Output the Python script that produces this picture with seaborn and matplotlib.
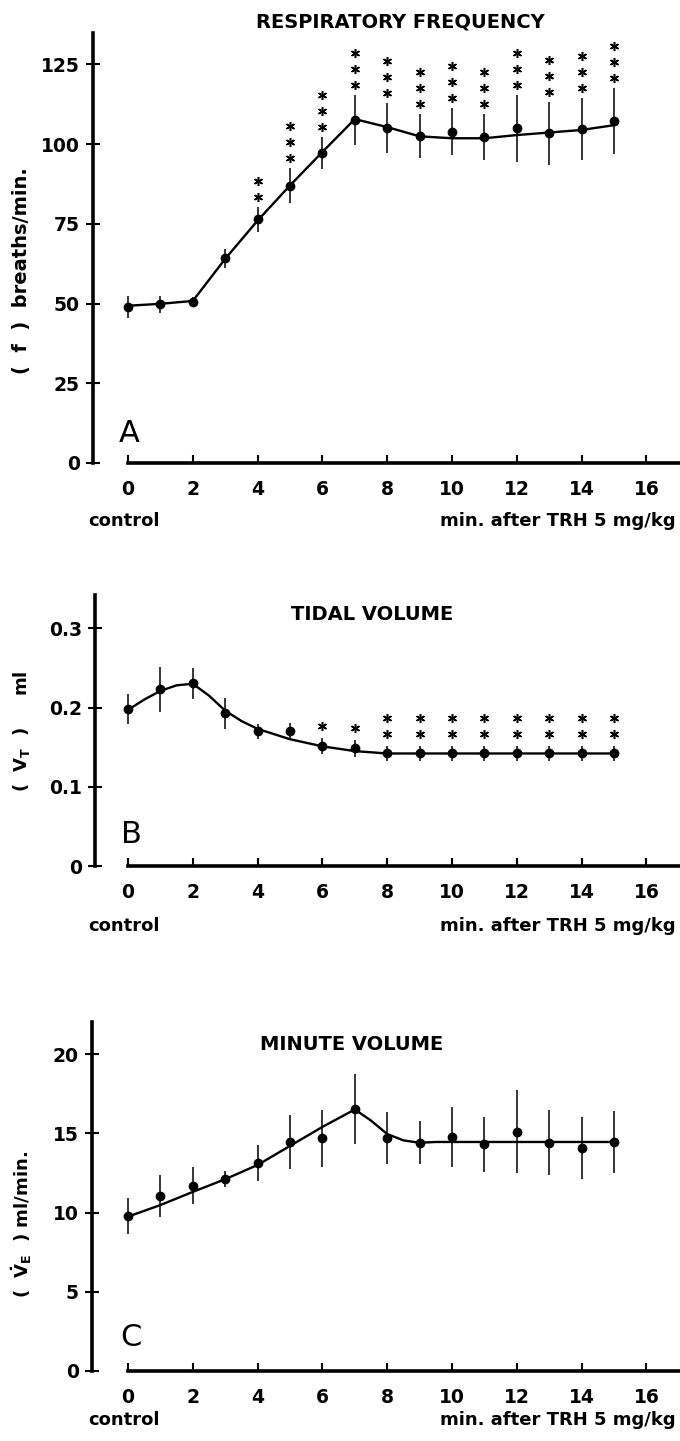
import numpy as np
import pandas as pd
import matplotlib
matplotlib.use("Agg")
import matplotlib.pyplot as plt
from matplotlib.transforms import offset_copy
import seaborn as sns

# ---------------- data ----------------
minutes = list(range(16))

freq_mean = [49.0, 49.7, 50.6, 64.2, 76.4, 86.9, 97.1, 107.5, 104.9, 102.6, 103.8, 102.3, 104.9, 103.4, 104.6, 107.2]
freq_err = [3.4, 2.7, 1.5, 3.0, 4.0, 5.5, 5.0, 7.9, 7.8, 6.9, 7.4, 7.2, 10.4, 9.9, 9.7, 10.4]
freq_sig = [0, 0, 0, 0, 2, 3, 3, 3, 3, 3, 3, 3, 3, 3, 3, 3]
freq_fit_x = [0, 1, 2, 3, 4, 5, 6, 7, 8, 9, 10, 11, 12, 13, 14, 15]
freq_fit_y = [49.3, 49.9, 50.8, 64.0, 76.0, 87.0, 97.5, 107.8, 105.3, 102.4, 101.8, 101.8, 102.8, 103.6, 104.4, 105.9]

vt_mean = [0.1976, 0.2228, 0.2304, 0.1926, 0.1702, 0.1706, 0.1513, 0.1484, 0.142, 0.142, 0.142, 0.142, 0.142, 0.142, 0.1425, 0.1425]
vt_err = [0.019, 0.028, 0.020, 0.0195, 0.0095, 0.0095, 0.0105, 0.0105, 0.0095, 0.0095, 0.0095, 0.0095, 0.0095, 0.0095, 0.0095, 0.0095]
vt_sig = [0, 0, 0, 0, 0, 0, 1, 1, 2, 2, 2, 2, 2, 2, 2, 2]
vt_fit_x = [0, 0.5, 1, 1.5, 2, 2.5, 3, 3.5, 4, 5, 6, 7, 8, 15]
vt_fit_y = [0.197, 0.210, 0.221, 0.228, 0.230, 0.215, 0.196, 0.183, 0.173, 0.160, 0.151, 0.145, 0.142, 0.142]

ve_mean = [9.78, 11.04, 11.69, 12.11, 13.14, 14.47, 14.68, 16.53, 14.68, 14.41, 14.74, 14.30, 15.10, 14.41, 14.09, 14.47]
ve_err = [1.16, 1.31, 1.16, 0.53, 1.13, 1.70, 1.81, 2.21, 1.65, 1.37, 1.89, 1.73, 2.60, 2.05, 1.95, 1.95]
ve_fit_x = [0, 1, 2, 3, 4, 5, 6, 7, 7.5, 8, 8.5, 9, 9.5, 15]
ve_fit_y = [9.74, 10.47, 11.3, 12.1, 13.0, 14.2, 15.4, 16.5, 15.8, 14.95, 14.55, 14.4, 14.45, 14.45]

xticks = [0, 2, 4, 6, 8, 10, 12, 14, 16]
yticks_A = [0, 25, 50, 75, 100, 125]
yticks_B = [0, 0.1, 0.2, 0.3]
yticklabels_B = ["0", "0.1", "0.2", "0.3"]
yticks_C = [0, 5, 10, 15, 20]

titles = ["RESPIRATORY FREQUENCY", "TIDAL VOLUME", "MINUTE VOLUME"]
ylabels = ["(  f  )  breaths/min.", r"(  $V_T$  )     ml", r"(  $\dot{V}_E$  ) ml/min."]
letters = ["A", "B", "C"]
xnote_left = "control"
xnote_right = "min. after TRH 5 mg/kg"

# ---------------- style ----------------
sns.set_theme(style="ticks")
plt.rcParams["font.family"] = ["DejaVu Sans"]
plt.rcParams["mathtext.fontset"] = "custom"
plt.rcParams["mathtext.rm"] = "DejaVu Sans:bold"
plt.rcParams["mathtext.it"] = "DejaVu Sans:bold"
plt.rcParams["mathtext.bf"] = "DejaVu Sans:bold"
plt.rcParams["mathtext.default"] = "rm"
for key in ("text.color", "axes.edgecolor", "axes.labelcolor", "xtick.color", "ytick.color"):
    plt.rcParams[key] = "black"

W, H = 680, 1441
fig = plt.figure(figsize=(W / 100, H / 100), dpi=100)

X0_PX = 128.0
PX_PER_MIN = 32.4
XRIGHT = (W - X0_PX) / PX_PER_MIN
TICKFS = 13.5
TXTFS = 13


def make_axes(left_px, top_px, bottom_px, ytop):
    ax = fig.add_axes([left_px / W, 1 - bottom_px / H, (W - left_px) / W, (bottom_px - top_px) / H])
    ax.set_xlim((left_px - X0_PX) / PX_PER_MIN, XRIGHT)
    ax.set_ylim(0, ytop)
    for s in ("top", "right"):
        ax.spines[s].set_visible(False)
    for s in ("left", "bottom"):
        ax.spines[s].set_linewidth(2.6)
        ax.spines[s].set_color("black")
    ax.spines["bottom"].set_bounds(0, XRIGHT)
    ax.set_facecolor("white")
    ax.tick_params(axis="x", direction="in", length=6, width=1.5, pad=12,
                   labelsize=TICKFS, colors="black")
    ax.tick_params(axis="y", direction="inout", length=10, width=1.5, pad=4.5,
                   labelsize=TICKFS, colors="black")
    return ax


def draw_panel(ax, mean, err, fit_x, fit_y, sig, first_off_px):
    df_fit = pd.DataFrame({"x": fit_x, "y": fit_y})
    sns.lineplot(data=df_fit, x="x", y="y", ax=ax, color="black", linewidth=1.7,
                 estimator=None, sort=False, zorder=2)
    ax.errorbar(minutes, mean, yerr=err, fmt="o", color="black", ms=6,
                elinewidth=1.1, capsize=0, zorder=3)
    if sig is not None:
        tops = np.array(mean) + np.array(err)
        nmax = max(sig)
        for k in range(nmax):
            xs = [m for m, s in zip(minutes, sig) if s > k]
            ys = [t for t, s in zip(tops, sig) if s > k]
            tr = offset_copy(ax.transData, fig=fig, x=0, y=(first_off_px + 16 * k) * 0.72, units="points")
            ax.plot(xs, ys, linestyle="none", marker=(6, 2, 0), ms=6.5, mew=1.1,
                    color="black", transform=tr, clip_on=False)
    ax.set_xlabel("")
    ax.set_ylabel("")


# Panel A
axA = make_axes(93, 33, 463, (463 - 33) / 3.19)
axA.set_yticks(yticks_A)
draw_panel(axA, freq_mean, freq_err, freq_fit_x, freq_fit_y, freq_sig, 10)

# Panel B
axB = make_axes(95, 595, 866, 0.342)
axB.set_yticks(yticks_B)
axB.set_yticklabels(yticklabels_B)
draw_panel(axB, vt_mean, vt_err, vt_fit_x, vt_fit_y, vt_sig, 12)

# Panel C
axC = make_axes(92, 1022, 1371, (1371 - 1022) / 15.85)
axC.set_yticks(yticks_C)
draw_panel(axC, ve_mean, ve_err, ve_fit_x, ve_fit_y, None, 0)

for ax in (axA, axB, axC):
    ax.set_xticks(xticks)
    ax.set_xticklabels([str(t) for t in xticks])
    for lab in ax.get_xticklabels() + ax.get_yticklabels():
        lab.set_fontweight("bold")
        lab.set_fontsize(TICKFS)
        lab.set_color("black")


def ftext(xp, yp, s, **kw):
    fig.text(xp / W, 1 - yp / H, s, color="black", **kw)


# titles
ftext(400, 22, titles[0], ha="center", va="center", fontsize=14, fontweight="bold")
ftext(372, 615, titles[1], ha="center", va="center", fontsize=14, fontweight="bold")
ftext(352, 1045, titles[2], ha="center", va="center", fontsize=14, fontweight="bold")

# y labels
ftext(22, 271, ylabels[0], rotation=90, ha="center", va="center", fontsize=14, fontweight="bold")
ftext(22, 731, ylabels[1], rotation=90, ha="center", va="center", fontsize=13, fontweight="bold")
ftext(22, 1224, ylabels[2], rotation=90, ha="center", va="center", fontsize=13, fontweight="bold")

# panel letters
ftext(129, 433, letters[0], ha="center", va="center", fontsize=22)
ftext(131, 834, letters[1], ha="center", va="center", fontsize=22)
ftext(131, 1337, letters[2], ha="center", va="center", fontsize=22)

# x notes
for yp in (521, 926, 1420):
    ftext(124, yp, xnote_left, ha="center", va="center", fontsize=TXTFS, fontweight="bold")
    ftext(676, yp, xnote_right, ha="right", va="center", fontsize=TXTFS, fontweight="bold")

fig.savefig("out.png", dpi=100, facecolor="white")
